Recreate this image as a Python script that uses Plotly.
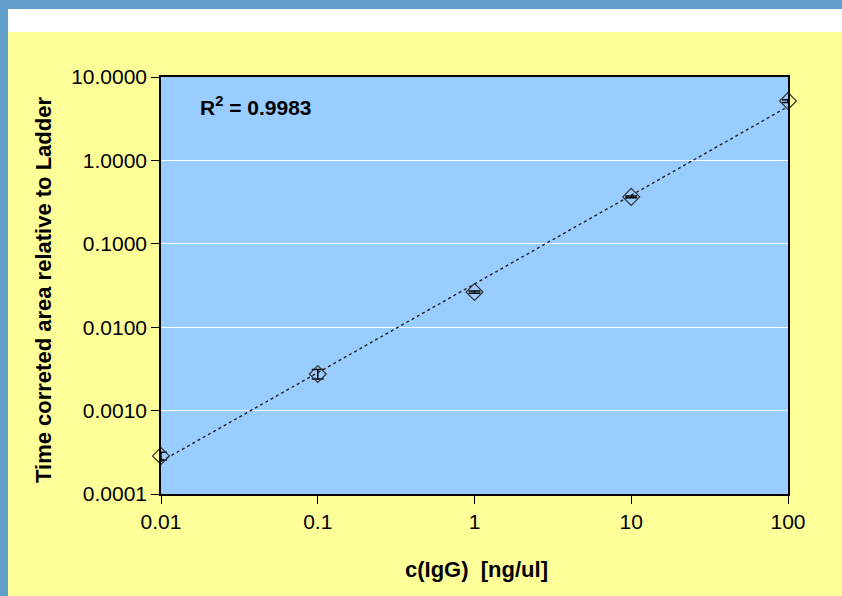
import numpy as np
import plotly.graph_objects as go

# Calibration data: IgG concentration vs. time-corrected peak area (relative to ladder)
conc_ng_ul = [0.01, 0.1, 1, 10, 100]
rel_area = [0.000286, 0.00275, 0.0264, 0.365, 5.15]
rel_area_err = [0.00003, 0.00035, 0.0008, 0.008, 0.2]

x_ticks = [0.01, 0.1, 1, 10, 100]
x_tick_text = ["0.01", "0.1", "1", "10", "100"]
y_ticks = [0.0001, 0.001, 0.01, 0.1, 1, 10]
y_tick_text = ["0.0001", "0.0010", "0.0100", "0.1000", "1.0000", "10.0000"]
r2_label = "R<sup>2</sup> = 0.9983"

# Power-law trendline fitted in log-log space
slope, intercept = np.polyfit(np.log10(conc_ng_ul), np.log10(rel_area), 1)
fit_x = np.array([min(conc_ng_ul), max(conc_ng_ul)])
fit_y = 10 ** (intercept + slope * np.log10(fit_x))

FONT = "Liberation Sans, Arial, sans-serif"

fig = go.Figure()
fig.add_trace(go.Scatter(
    x=fit_x, y=fit_y, mode="lines",
    line=dict(color="#222222", width=1.4, dash="dot"),
    hoverinfo="skip", showlegend=False,
))
fig.add_trace(go.Scatter(
    x=conc_ng_ul, y=rel_area, mode="markers",
    marker=dict(symbol="diamond-open", size=13, color="#333333",
                line=dict(width=1.2, color="#333333")),
    error_y=dict(type="data", array=rel_area_err, visible=True,
                 color="#000000", thickness=1.5, width=6),
    cliponaxis=False, showlegend=False,
))

# Plot area spans 161..788 px horizontally and 77..494 px vertically
L, R, T, B = 161, 788, 77, 494
W, H = R - L, B - T
def px(p):
    return (p - L) / W
def py(p):
    return (B - p) / H

shapes = [
    # white band under the top frame
    dict(type="rect", xref="paper", yref="paper", x0=px(0), x1=px(842),
         y0=py(32), y1=py(0), fillcolor="#ffffff", line=dict(width=0), layer="below"),
    # blue frame: top and left
    dict(type="rect", xref="paper", yref="paper", x0=px(0), x1=px(842),
         y0=py(9), y1=py(0), fillcolor="#5f9dca", line=dict(width=0), layer="below"),
    dict(type="rect", xref="paper", yref="paper", x0=px(0), x1=px(8),
         y0=py(596), y1=py(0), fillcolor="#5f9dca", line=dict(width=0), layer="below"),
]

annotations = [
    dict(text=r2_label, xref="paper", yref="paper", x=px(198), y=py(106),
         xanchor="left", yanchor="middle", showarrow=False,
         font=dict(family=FONT, size=21, color="#000000", weight="bold")),
    dict(text="c(IgG) \u00a0[ng/ul]", xref="paper", yref="paper", x=px(476), y=py(569),
         xanchor="center", yanchor="middle", showarrow=False,
         font=dict(family=FONT, size=22, color="#000000", weight="bold")),
    dict(text="Time correted area relative to Ladder", xref="paper", yref="paper",
         x=px(43), y=py(290), textangle=-90, xanchor="center", yanchor="middle",
         showarrow=False,
         font=dict(family=FONT, size=22, color="#000000", weight="bold")),
]

fig.update_layout(
    width=842, height=596,
    margin=dict(l=L, r=842 - R, t=T, b=596 - B, pad=0),
    paper_bgcolor="#ffff99", plot_bgcolor="#99ccff",
    font=dict(family=FONT, size=21, color="#000000"),
    shapes=shapes, annotations=annotations,
    xaxis=dict(type="log", range=[-2, 2], tickvals=x_ticks, ticktext=x_tick_text,
               showgrid=False, zeroline=False, showline=True, linecolor="#000000",
               linewidth=1.5, mirror=True, ticks="outside", ticklen=8,
               tickcolor="#000000", tickwidth=1.2, tickfont=dict(size=21)),
    yaxis=dict(type="log", range=[-4, 1], tickvals=y_ticks, ticktext=y_tick_text,
               showgrid=True, gridcolor="#ffffff", gridwidth=1.2, zeroline=False,
               showline=True, linecolor="#000000", linewidth=1.5, mirror=True,
               ticks="outside", ticklen=8, tickcolor="#000000", tickwidth=1.2,
               tickfont=dict(size=21)),
)

fig.write_html("out.html")
